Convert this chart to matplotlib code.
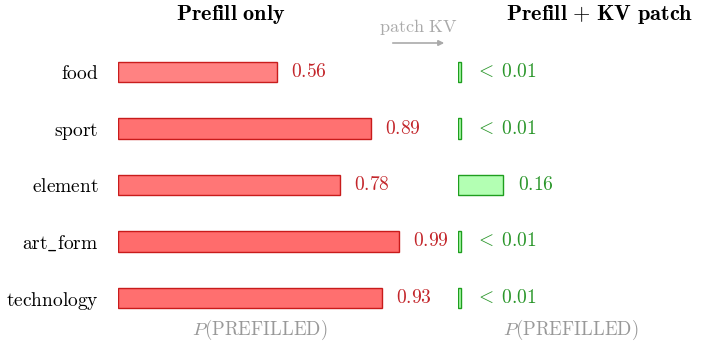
import matplotlib
matplotlib.use("Agg")
import matplotlib.pyplot as plt

# Data
categories = ["food", "sport", "element", "art_form", "technology"]
prefill_only = [0.56, 0.89, 0.78, 0.99, 0.93]
kv_patch = [0.01, 0.01, 0.16, 0.01, 0.01]
kv_labels = ["< 0.01", "< 0.01", "0.16", "< 0.01", "< 0.01"]

plt.rcParams["mathtext.fontset"] = "cm"
plt.rcParams["font.family"] = "serif"
plt.rcParams["font.serif"] = ["cmr10", "DejaVu Serif"]
plt.rcParams["axes.unicode_minus"] = False

W, H = 702, 348
fig = plt.figure(figsize=(W / 100, H / 100), dpi=100)

px_per_unit = 284.0
row_gap = 56.5
n = len(categories)
ax_h = row_gap * n
ax_bottom = (H - 298) - row_gap / 2

def mt(s):
    return r"$\mathrm{" + s.replace("_", r"\_").replace(" ", r"\ ") + "}$"

red_text = "#c3262b"
green_text = "#2a962a"
fs = 14

# left panel
ax1 = fig.add_axes([118 / W, ax_bottom / H, 1.2 * px_per_unit / W, ax_h / H])
ys = list(range(n))
for y, v in zip(ys, prefill_only):
    alpha = 0.38 + 0.2 * v
    ax1.barh(y, v, height=0.36, color=(1, 0, 0, alpha),
             edgecolor=(0.75, 0, 0, 0.85), linewidth=1.0)
    ax1.text(v + 0.05, y, mt("%.2f" % v), color=red_text, fontsize=fs,
             va="center", ha="left")
ax1.set_xlim(0, 1.2)
ax1.set_ylim(n - 0.5, -0.5)
ax1.set_yticks(ys)
ax1.set_yticklabels([mt(c) for c in categories], fontsize=fs)
ax1.tick_params(axis="y", length=0, pad=14)
ax1.set_xticks([])
for s in ax1.spines.values():
    s.set_visible(False)

# right panel
ax2 = fig.add_axes([458 / W, ax_bottom / H, 0.8 * px_per_unit / W, ax_h / H])
for y, v, lab in zip(ys, kv_patch, kv_labels):
    ax2.barh(y, v, height=0.36, color=(0.70, 1.0, 0.70),
             edgecolor="#1e9e1e", linewidth=1.0)
    txt = r"$<\;0.01$" if lab.startswith("<") else mt(lab)
    ax2.text(v + 0.05, y, txt, color=green_text, fontsize=fs,
             va="center", ha="left")
ax2.set_xlim(0, 0.8)
ax2.set_ylim(n - 0.5, -0.5)
ax2.set_xticks([])
ax2.set_yticks([])
for s in ax2.spines.values():
    s.set_visible(False)

# titles
fig.text(231 / W, 1 - 14 / H, r"$\mathbf{Prefill\ only}$", fontsize=16,
         ha="center", va="center")
fig.text(600 / W, 1 - 14 / H, r"$\mathbf{Prefill}\ \mathbf{+}\ \mathbf{KV\ patch}$",
         fontsize=16, ha="center", va="center")

# x labels
fig.text(260 / W, 1 - 330 / H, r"$P(\mathrm{PREFILLED})$", fontsize=13.5,
         color="#999999", ha="center", va="center")
fig.text(571 / W, 1 - 330 / H, r"$P(\mathrm{PREFILLED})$", fontsize=13.5,
         color="#999999", ha="center", va="center")

# patch KV arrow
fig.text(418 / W, 1 - 27 / H, mt("patch KV"), fontsize=13, color="#aaaaaa",
         ha="center", va="center")
fig.patches.append(matplotlib.patches.FancyArrowPatch(
    (390 / W, 1 - 43 / H), (447 / W, 1 - 43 / H), transform=fig.transFigure,
    arrowstyle="-|>", mutation_scale=8, color="#aaaaaa", linewidth=1.2))

fig.savefig("out.png", dpi=100)
